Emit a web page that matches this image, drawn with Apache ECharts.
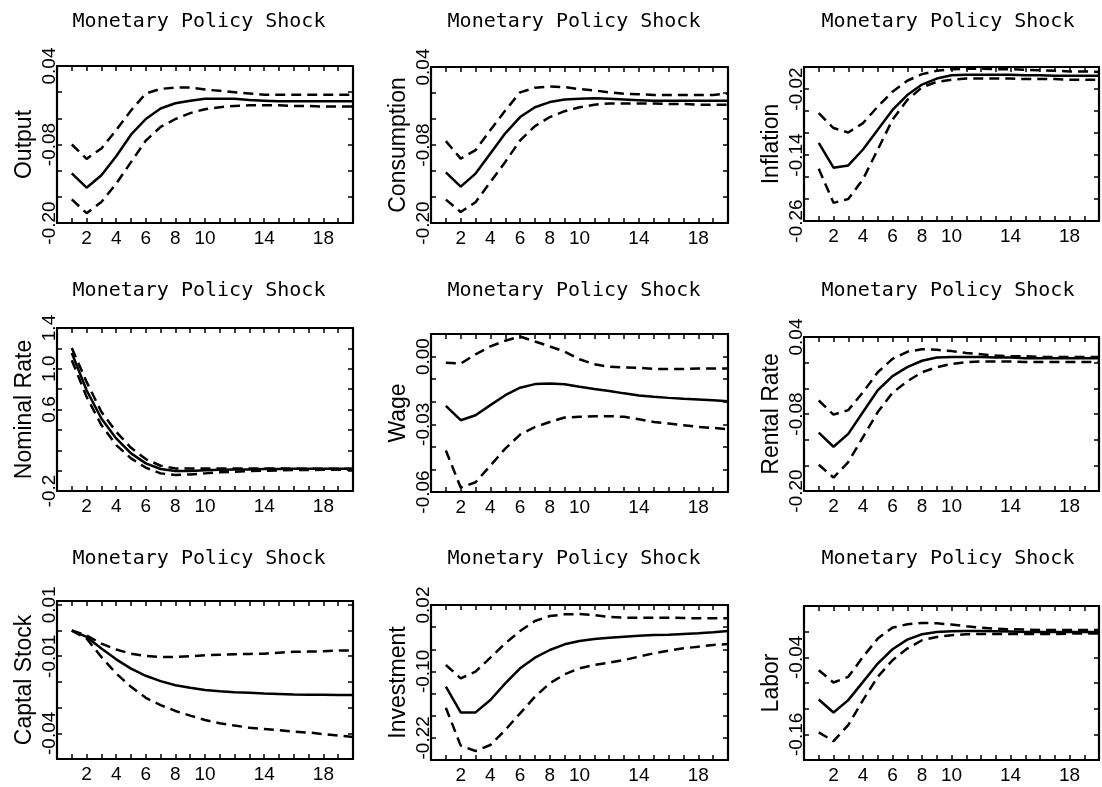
<!DOCTYPE html>
<html><head><meta charset="utf-8">
<script src="https://cdn.jsdelivr.net/npm/echarts@6/dist/echarts.min.js"></script>
<style>html,body{margin:0;padding:0;background:#fff}#c{width:1102px;height:787px}</style>
</head><body><div id="c"></div>
<script>
// ---------------- DATA ----------------
const periods = [1,2,3,4,5,6,7,8,9,10,11,12,13,14,15,16,17,18,19,20];
const xTickLabels = ['2','4','6','8','10','14','18'];
const titleText = 'Monetary Policy Shock';
const variableNames = ['Output','Consumption','Inflation','Nominal Rate','Wage','Rental Rate','Captal Stock','Investment','Labor'];

const outputMid = [-0.124,-0.146,-0.127,-0.098,-0.065,-0.041,-0.025,-0.017,-0.013,-0.010,-0.010,-0.010,-0.012,-0.013,-0.014,-0.014,-0.014,-0.014,-0.014,-0.014];
const outputUp  = [-0.080,-0.102,-0.086,-0.058,-0.028,-0.002,0.005,0.007,0.007,0.004,0.002,0.000,-0.002,-0.004,-0.004,-0.004,-0.004,-0.004,-0.004,-0.004];
const outputLo  = [-0.164,-0.185,-0.168,-0.140,-0.107,-0.074,-0.053,-0.041,-0.032,-0.026,-0.023,-0.021,-0.020,-0.020,-0.020,-0.021,-0.021,-0.022,-0.022,-0.022];
const outputYLabels = ['-0.20','-0.08','0.04'];

const consMid = [-0.122,-0.144,-0.124,-0.093,-0.062,-0.037,-0.022,-0.014,-0.010,-0.009,-0.008,-0.009,-0.010,-0.011,-0.012,-0.012,-0.012,-0.012,-0.012,-0.012];
const consUp  = [-0.074,-0.101,-0.088,-0.057,-0.027,0.001,0.008,0.010,0.009,0.006,0.004,0.001,-0.001,-0.002,-0.003,-0.003,-0.003,-0.003,-0.003,-0.001];
const consLo  = [-0.164,-0.183,-0.168,-0.137,-0.106,-0.073,-0.051,-0.037,-0.028,-0.022,-0.018,-0.016,-0.016,-0.016,-0.016,-0.017,-0.017,-0.018,-0.018,-0.018];
const consYLabels = ['-0.20','-0.08','0.04'];

const inflMid = [-0.118,-0.163,-0.159,-0.130,-0.094,-0.058,-0.031,-0.012,-0.001,0.005,0.006,0.006,0.006,0.006,0.005,0.005,0.004,0.004,0.004,0.004];
const inflUp  = [-0.064,-0.091,-0.099,-0.082,-0.052,-0.025,-0.005,0.007,0.013,0.016,0.017,0.017,0.016,0.016,0.015,0.014,0.013,0.012,0.012,0.011];
const inflLo  = [-0.165,-0.227,-0.220,-0.184,-0.130,-0.076,-0.040,-0.017,-0.007,-0.003,-0.001,-0.001,-0.001,-0.001,-0.002,-0.002,-0.002,-0.003,-0.003,-0.003];
const inflYLabels = ['-0.26','-0.14','-0.02'];

const rateMid = [1.155,0.789,0.512,0.316,0.169,0.071,0.016,-0.004,-0.004,0.003,0.009,0.012,0.012,0.016,0.016,0.019,0.019,0.019,0.019,0.019];
const rateUp  = [1.204,0.871,0.577,0.381,0.224,0.113,0.048,0.022,0.022,0.022,0.022,0.022,0.022,0.022,0.022,0.019,0.019,0.019,0.019,0.019];
const rateLo  = [1.083,0.724,0.447,0.251,0.120,0.029,-0.027,-0.043,-0.037,-0.027,-0.017,-0.010,-0.004,-0.001,0.002,0.006,0.006,0.009,0.009,0.009];
const rateYLabels = ['-0.2','0.6','1.0','1.4'];

const wageMid = [-0.0218,-0.0282,-0.0260,-0.0215,-0.0171,-0.0138,-0.0122,-0.0119,-0.0123,-0.0134,-0.0144,-0.0153,-0.0163,-0.0172,-0.0178,-0.0183,-0.0187,-0.0190,-0.0193,-0.0198];
const wageUp  = [-0.0027,-0.0031,0.0010,0.0045,0.0070,0.0089,0.0067,0.0045,0.0022,-0.0012,-0.0034,-0.0045,-0.0048,-0.0050,-0.0055,-0.0055,-0.0055,-0.0053,-0.0053,-0.0053];
const wageLo  = [-0.0416,-0.0580,-0.0557,-0.0483,-0.0408,-0.0346,-0.0312,-0.0290,-0.0270,-0.0267,-0.0264,-0.0264,-0.0267,-0.0278,-0.0290,-0.0297,-0.0304,-0.0312,-0.0316,-0.0322];
const wageYLabels = ['-0.06','-0.03','0.00'];

const rentMid = [-0.109,-0.131,-0.111,-0.077,-0.043,-0.021,-0.007,0.003,0.008,0.009,0.009,0.009,0.008,0.008,0.007,0.007,0.007,0.007,0.007,0.007];
const rentUp  = [-0.059,-0.081,-0.074,-0.046,-0.015,0.006,0.017,0.021,0.020,0.018,0.015,0.013,0.011,0.010,0.010,0.009,0.009,0.009,0.009,0.009];
const rentLo  = [-0.159,-0.179,-0.155,-0.116,-0.077,-0.047,-0.029,-0.015,-0.007,-0.002,0.001,0.002,0.002,0.002,0.001,0.001,0.001,0.001,0.001,0.001];
const rentYLabels = ['-0.20','-0.08','0.04'];

const capMid = [0.0000,-0.0025,-0.0070,-0.0112,-0.0148,-0.0176,-0.0197,-0.0213,-0.0223,-0.0231,-0.0236,-0.0240,-0.0242,-0.0245,-0.0247,-0.0249,-0.0250,-0.0250,-0.0251,-0.0251];
const capUp  = [0.0000,-0.0019,-0.0051,-0.0074,-0.0090,-0.0099,-0.0103,-0.0103,-0.0100,-0.0096,-0.0094,-0.0092,-0.0091,-0.0090,-0.0086,-0.0083,-0.0082,-0.0081,-0.0078,-0.0077];
const capLo  = [0.0000,-0.0031,-0.0103,-0.0167,-0.0219,-0.0262,-0.0290,-0.0313,-0.0331,-0.0348,-0.0361,-0.0370,-0.0378,-0.0383,-0.0388,-0.0394,-0.0397,-0.0403,-0.0409,-0.0414];
const capYLabels = ['-0.04','-0.01','0.01'];

const invMid = [-0.1275,-0.1740,-0.1740,-0.1516,-0.1215,-0.0944,-0.0751,-0.0613,-0.0510,-0.0450,-0.0414,-0.0390,-0.0372,-0.0354,-0.0342,-0.0336,-0.0324,-0.0312,-0.0294,-0.0270];
const invUp  = [-0.0884,-0.1125,-0.1004,-0.0751,-0.0492,-0.0270,-0.0089,0.0001,0.0031,0.0037,0.0019,-0.0017,-0.0029,-0.0029,-0.0029,-0.0029,-0.0035,-0.0041,-0.0041,-0.0041];
const invLo  = [-0.1655,-0.2340,-0.2437,-0.2329,-0.2058,-0.1757,-0.1456,-0.1215,-0.1053,-0.0944,-0.0884,-0.0842,-0.0794,-0.0733,-0.0673,-0.0625,-0.0583,-0.0553,-0.0523,-0.0505];
const invYLabels = ['-0.22','-0.10','0.02'];

const laborMid = [-0.1057,-0.1259,-0.1067,-0.0782,-0.0497,-0.0274,-0.0124,-0.0041,-0.0004,0.0006,0.0011,0.0011,0.0006,0.0001,-0.0004,-0.0004,-0.0004,-0.0004,-0.0004,-0.0004];
const laborUp  = [-0.0600,-0.0792,-0.0704,-0.0393,-0.0108,0.0063,0.0115,0.0136,0.0130,0.0110,0.0084,0.0063,0.0047,0.0037,0.0032,0.0027,0.0027,0.0027,0.0027,0.0027];
const laborLo  = [-0.1570,-0.1705,-0.1456,-0.1067,-0.0704,-0.0445,-0.0264,-0.0134,-0.0082,-0.0056,-0.0040,-0.0035,-0.0035,-0.0035,-0.0035,-0.0035,-0.0035,-0.0030,-0.0030,-0.0030];
const laborYLabels = ['-0.16','-0.04'];

// ---------------- LAYOUT ----------------
const panels = [
  {mid: outputMid, up: outputUp, lo: outputLo, yl: outputYLabels, left: 57,  top: 66,  width: 296, height: 157, min: -0.20, max: 0.04, interval: 0.04},
  {mid: consMid,   up: consUp,   lo: consLo,   yl: consYLabels,   left: 431, top: 67,  width: 297, height: 156, min: -0.20, max: 0.04, interval: 0.04},
  {mid: inflMid,   up: inflUp,   lo: inflLo,   yl: inflYLabels,   left: 804, top: 67,  width: 296, height: 154, min: -0.26, max: 0.02, interval: 0.04},
  {mid: rateMid,   up: rateUp,   lo: rateLo,   yl: rateYLabels,   left: 57,  top: 328, width: 296, height: 163, min: -0.2,  max: 1.4,  interval: 0.2},
  {mid: wageMid,   up: wageUp,   lo: wageLo,   yl: wageYLabels,   left: 431, top: 334, width: 297, height: 158, min: -0.06, max: 0.01, interval: 0.01},
  {mid: rentMid,   up: rentUp,   lo: rentLo,   yl: rentYLabels,   left: 804, top: 337, width: 296, height: 154, min: -0.20, max: 0.04, interval: 0.04},
  {mid: capMid,    up: capUp,    lo: capLo,    yl: capYLabels,    left: 57,  top: 601, width: 296, height: 158, min: -0.05, max: 0.0115, interval: 0.01},
  {mid: invMid,    up: invUp,    lo: invLo,    yl: invYLabels,    left: 431, top: 605, width: 297, height: 155, min: -0.26, max: 0.02, interval: 0.04},
  {mid: laborMid,  up: laborUp,  lo: laborLo,  yl: laborYLabels,  left: 804, top: 606, width: 296, height: 154, min: -0.20, max: 0.04, interval: 0.04}
];
const titlePos = [[199,22],[574,22],[948,22],[199,291],[574,291],[948,291],[199,559],[574,559],[948,559]];

const BLACK = '#000';
const labelFont = 'Liberation Sans';
const pick = labels => v => {
  for (const s of labels) if (Math.abs(parseFloat(s) - v) < 1e-7) return s;
  return '';
};

const grid = [], xAxis = [], yAxis = [], series = [];
panels.forEach((p, i) => {
  grid.push({left: p.left, top: p.top, width: p.width, height: p.height, containLabel: false});
  const lineCommon = {show: true, onZero: false, lineStyle: {color: BLACK, width: 2.2}};
  const tickCommon = {show: true, inside: true, length: 5, lineStyle: {color: BLACK, width: 1.5}};
  xAxis.push({type: 'value', gridIndex: i, position: 'bottom', min: 0, max: 20, interval: 1,
    axisLine: lineCommon, axisTick: tickCommon, splitLine: {show: false},
    axisLabel: {show: true, margin: 6, color: BLACK, fontSize: 19, fontFamily: labelFont, formatter: pick(xTickLabels)}});
  xAxis.push({type: 'value', gridIndex: i, position: 'top', min: 0, max: 20, interval: 1,
    axisLine: lineCommon, axisTick: tickCommon, splitLine: {show: false}, axisLabel: {show: false}});
  yAxis.push({type: 'value', gridIndex: i, position: 'left', min: p.min, max: p.max, interval: p.interval,
    axisLine: lineCommon, axisTick: tickCommon, splitLine: {show: false},
    axisLabel: {show: true, rotate: 90, margin: -2, color: BLACK, fontSize: 19, fontFamily: labelFont, formatter: pick(p.yl)},
    name: variableNames[i], nameLocation: 'middle', nameGap: 21, nameRotate: 90,
    nameTextStyle: {color: BLACK, fontSize: 23, fontFamily: labelFont}});
  yAxis.push({type: 'value', gridIndex: i, position: 'right', min: p.min, max: p.max, interval: p.interval,
    axisLine: lineCommon, axisTick: tickCommon, splitLine: {show: false}, axisLabel: {show: false}});
  const mk = (arr, dashed) => ({
    type: 'line', xAxisIndex: 2 * i, yAxisIndex: 2 * i, showSymbol: false, symbol: 'none', silent: true,
    clip: true, animation: false,
    lineStyle: {color: BLACK, width: 2.5, type: dashed ? [10, 6] : 'solid'},
    data: periods.map((x, k) => [x, arr[k]])
  });
  series.push(mk(p.up, true), mk(p.mid, false), mk(p.lo, true));
});

const graphic = titlePos.map(([x, y]) => ({
  type: 'text', x: x, y: y, silent: true,
  style: {text: titleText, fontFamily: 'DejaVu Sans Mono', fontSize: 20, fill: BLACK, align: 'center', verticalAlign: 'middle'}
}));

const chart = echarts.init(document.getElementById('c'), null, {renderer: 'canvas'});
chart.setOption({backgroundColor: '#fff', animation: false, grid, xAxis, yAxis, series, graphic});
</script></body></html>
